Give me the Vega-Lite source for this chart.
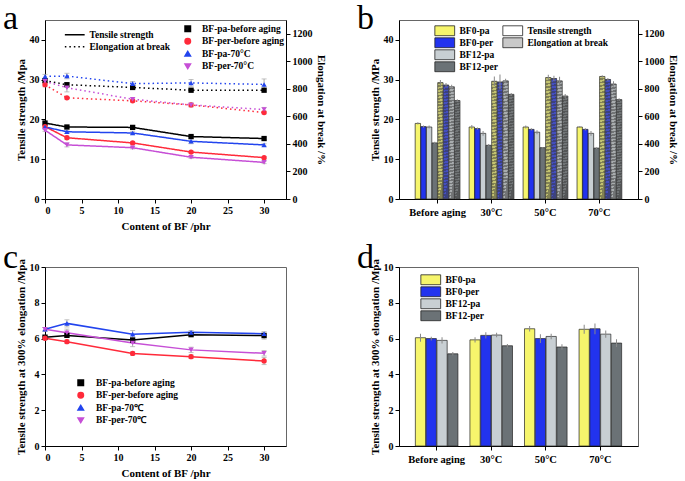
{
"$schema": "https://vega.github.io/schema/vega-lite/v6.json",
"padding": {"left": 2, "top": 1, "right": 0, "bottom": 0},
"columns": 2,
"align": "each",
"spacing": {"column": 29, "row": 8},
"config": {
  "font": "Liberation Serif",
  "view": {"stroke": "#666", "strokeWidth": 1},
  "axis": {"labelFont": "Liberation Serif", "labelFontWeight": "bold", "labelFontSize": 10, "titleFont": "Liberation Serif", "titleFontWeight": "bold", "titleFontSize": 11, "labelColor": "#000", "titleColor": "#000", "domainColor": "#000", "tickColor": "#000", "grid": false, "tickSize": 4, "labelPadding": 2, "titlePadding": 3, "labelOverlap": false},
  "legend": {"labelFont": "Liberation Serif", "labelFontWeight": "bold", "labelFontSize": 9.5, "labelColor": "#000", "rowPadding": 1, "title": null},
  "title": {"font": "Liberation Serif", "fontWeight": "normal", "fontSize": 34, "anchor": "start", "frame": "bounds", "offset": -16, "dx": -12, "color": "#000"}
},
"resolve": {"scale": {"xOffset": "independent", "color": "independent", "shape": "independent", "fill": "independent", "strokeDash": "independent"}, "legend": {"color": "independent", "shape": "independent", "fill": "independent", "strokeDash": "independent"}},
"concat": [
{
  "title": {"text": "a"},
  "width": 241, "height": 179,
  "data": {"values": [
    {"x": 0, "series": "BF-pa-before aging", "prop": "Tensile strength", "v": 19.1, "e": 0.3},
    {"x": 3, "series": "BF-pa-before aging", "prop": "Tensile strength", "v": 18.1, "e": 0.3},
    {"x": 12, "series": "BF-pa-before aging", "prop": "Tensile strength", "v": 18.0, "e": 0.3},
    {"x": 20, "series": "BF-pa-before aging", "prop": "Tensile strength", "v": 15.7, "e": 0.3},
    {"x": 30, "series": "BF-pa-before aging", "prop": "Tensile strength", "v": 15.2, "e": 0.3},
    {"x": 0, "series": "BF-per-before aging", "prop": "Tensile strength", "v": 18.2, "e": 0.3},
    {"x": 3, "series": "BF-per-before aging", "prop": "Tensile strength", "v": 15.4, "e": 0.4},
    {"x": 12, "series": "BF-per-before aging", "prop": "Tensile strength", "v": 14.1, "e": 0.3},
    {"x": 20, "series": "BF-per-before aging", "prop": "Tensile strength", "v": 11.8, "e": 0.3},
    {"x": 30, "series": "BF-per-before aging", "prop": "Tensile strength", "v": 10.4, "e": 0.3},
    {"x": 0, "series": "BF-pa-70°C", "prop": "Tensile strength", "v": 18.1, "e": 0.3},
    {"x": 3, "series": "BF-pa-70°C", "prop": "Tensile strength", "v": 16.9, "e": 0.4},
    {"x": 12, "series": "BF-pa-70°C", "prop": "Tensile strength", "v": 16.6, "e": 0.4},
    {"x": 20, "series": "BF-pa-70°C", "prop": "Tensile strength", "v": 14.5, "e": 0.6},
    {"x": 30, "series": "BF-pa-70°C", "prop": "Tensile strength", "v": 13.6, "e": 0.3},
    {"x": 0, "series": "BF-per-70°C", "prop": "Tensile strength", "v": 17.3, "e": 0.3},
    {"x": 3, "series": "BF-per-70°C", "prop": "Tensile strength", "v": 13.6, "e": 0.5},
    {"x": 12, "series": "BF-per-70°C", "prop": "Tensile strength", "v": 12.9, "e": 0.3},
    {"x": 20, "series": "BF-per-70°C", "prop": "Tensile strength", "v": 10.5, "e": 0.3},
    {"x": 30, "series": "BF-per-70°C", "prop": "Tensile strength", "v": 9.2, "e": 0.3},
    {"x": 0, "series": "BF-pa-before aging", "prop": "Elongation at break", "v": 860, "e": 15},
    {"x": 3, "series": "BF-pa-before aging", "prop": "Elongation at break", "v": 830, "e": 15},
    {"x": 12, "series": "BF-pa-before aging", "prop": "Elongation at break", "v": 810, "e": 10},
    {"x": 20, "series": "BF-pa-before aging", "prop": "Elongation at break", "v": 790, "e": 10},
    {"x": 30, "series": "BF-pa-before aging", "prop": "Elongation at break", "v": 790, "e": 10},
    {"x": 0, "series": "BF-per-before aging", "prop": "Elongation at break", "v": 830, "e": 15},
    {"x": 3, "series": "BF-per-before aging", "prop": "Elongation at break", "v": 735, "e": 10},
    {"x": 12, "series": "BF-per-before aging", "prop": "Elongation at break", "v": 713, "e": 10},
    {"x": 20, "series": "BF-per-before aging", "prop": "Elongation at break", "v": 683, "e": 10},
    {"x": 30, "series": "BF-per-before aging", "prop": "Elongation at break", "v": 628, "e": 10},
    {"x": 0, "series": "BF-pa-70°C", "prop": "Elongation at break", "v": 890, "e": 15},
    {"x": 3, "series": "BF-pa-70°C", "prop": "Elongation at break", "v": 893, "e": 20},
    {"x": 12, "series": "BF-pa-70°C", "prop": "Elongation at break", "v": 838, "e": 15},
    {"x": 20, "series": "BF-pa-70°C", "prop": "Elongation at break", "v": 843, "e": 25},
    {"x": 30, "series": "BF-pa-70°C", "prop": "Elongation at break", "v": 832, "e": 40},
    {"x": 0, "series": "BF-per-70°C", "prop": "Elongation at break", "v": 855, "e": 15},
    {"x": 3, "series": "BF-per-70°C", "prop": "Elongation at break", "v": 808, "e": 30},
    {"x": 12, "series": "BF-per-70°C", "prop": "Elongation at break", "v": 725, "e": 10},
    {"x": 20, "series": "BF-per-70°C", "prop": "Elongation at break", "v": 683, "e": 15},
    {"x": 30, "series": "BF-per-70°C", "prop": "Elongation at break", "v": 650, "e": 15}
  ]},
  "encoding": {
    "x": {"field": "x", "type": "quantitative", "scale": {"domain": [0, 33], "nice": false}, "axis": {"values": [0, 5, 10, 15, 20, 25, 30], "title": "Content of BF /phr", "titlePadding": 5}}
  },
  "layer": [
    {"transform": [{"filter": "datum.prop == 'Tensile strength'"}],
     "encoding": {"y": {"field": "v", "type": "quantitative", "scale": {"domain": [0, 45], "nice": false}, "axis": {"values": [0, 10, 20, 30, 40], "title": "Tensile strength /Mpa"}}},
     "layer": [
       {"mark": {"type": "errorbar", "color": "#aaa", "ticks": true}, "encoding": {"yError": {"field": "e"}}},
       {"mark": {"type": "line", "strokeWidth": 1.5},
        "encoding": {
          "color": {"field": "series", "type": "nominal", "scale": {"domain": ["BF-pa-before aging", "BF-per-before aging", "BF-pa-70°C", "BF-per-70°C"], "range": ["#000000", "#ff2a3a", "#2244ee", "#c64fd6"]}, "legend": {"orient": "none", "legendX": 138, "legendY": 4, "symbolSize": 30, "labelOffset": 9.5, "rowPadding": 0.5}},
          "strokeDash": {"field": "prop", "type": "nominal", "scale": {"domain": ["Tensile strength", "Elongation at break"], "range": [[1, 0], [1.5, 3]]}, "legend": {"orient": "none", "legendX": 25, "legendY": 10, "symbolType": "M-3.3,0H3.3", "symbolSize": 36, "labelOffset": 10, "rowPadding": 1, "symbolStrokeColor": "#000", "symbolStrokeWidth": 1.5}}
        }},
       {"mark": {"type": "point", "filled": true, "size": 28, "opacity": 1},
        "encoding": {
          "color": {"field": "series", "type": "nominal", "legend": {"orient": "none", "legendX": 138, "legendY": 4, "symbolSize": 30, "labelOffset": 9.5, "rowPadding": 0.5}},
          "shape": {"field": "series", "type": "nominal", "scale": {"domain": ["BF-pa-before aging", "BF-per-before aging", "BF-pa-70°C", "BF-per-70°C"], "range": ["square", "circle", "triangle-up", "triangle-down"]}, "legend": {"orient": "none", "legendX": 138, "legendY": 4, "symbolSize": 30, "labelOffset": 9.5, "rowPadding": 0.5}}
        }}
     ]},
    {"transform": [{"filter": "datum.prop == 'Elongation at break'"}],
     "encoding": {"y": {"field": "v", "type": "quantitative", "scale": {"domain": [0, 1300], "nice": false}, "axis": {"orient": "right", "format": "d", "values": [0, 200, 400, 600, 800, 1000, 1200], "title": "Elongation at break /%"}}},
     "layer": [
       {"mark": {"type": "errorbar", "color": "#aaa", "ticks": true}, "encoding": {"yError": {"field": "e"}}},
       {"mark": {"type": "line", "strokeWidth": 1.5},
        "encoding": {
          "color": {"field": "series", "type": "nominal"},
          "strokeDash": {"field": "prop", "type": "nominal"}
        }},
       {"mark": {"type": "point", "filled": true, "size": 28, "opacity": 1},
        "encoding": {
          "color": {"field": "series", "type": "nominal"},
          "shape": {"field": "series", "type": "nominal"}
        }}
     ]}
  ],
  "resolve": {"scale": {"y": "independent"}}
},
{
  "title": {"text": "b"},
  "width": 239, "height": 179,
  "data": {"values": [
    {"cond": "Before aging", "sample": "BF0-pa", "prop": "Tensile strength", "key": "TS BF0-pa", "v": 19.0, "lo": 18.7, "hi": 19.3},
    {"cond": "Before aging", "sample": "BF0-per", "prop": "Tensile strength", "key": "TS BF0-per", "v": 18.2, "lo": 17.9, "hi": 18.5},
    {"cond": "Before aging", "sample": "BF12-pa", "prop": "Tensile strength", "key": "TS BF12-pa", "v": 18.1, "lo": 17.7, "hi": 18.5},
    {"cond": "Before aging", "sample": "BF12-per", "prop": "Tensile strength", "key": "TS BF12-per", "v": 14.1, "lo": 13.8, "hi": 14.4},
    {"cond": "30°C", "sample": "BF0-pa", "prop": "Tensile strength", "key": "TS BF0-pa", "v": 18.1, "lo": 17.6, "hi": 18.6},
    {"cond": "30°C", "sample": "BF0-per", "prop": "Tensile strength", "key": "TS BF0-per", "v": 17.7, "lo": 17.4, "hi": 18.0},
    {"cond": "30°C", "sample": "BF12-pa", "prop": "Tensile strength", "key": "TS BF12-pa", "v": 16.5, "lo": 15.9, "hi": 17.1},
    {"cond": "30°C", "sample": "BF12-per", "prop": "Tensile strength", "key": "TS BF12-per", "v": 13.5, "lo": 13.2, "hi": 13.8},
    {"cond": "50°C", "sample": "BF0-pa", "prop": "Tensile strength", "key": "TS BF0-pa", "v": 18.1, "lo": 17.7, "hi": 18.5},
    {"cond": "50°C", "sample": "BF0-per", "prop": "Tensile strength", "key": "TS BF0-per", "v": 17.5, "lo": 17.2, "hi": 17.8},
    {"cond": "50°C", "sample": "BF12-pa", "prop": "Tensile strength", "key": "TS BF12-pa", "v": 16.8, "lo": 16.3, "hi": 17.3},
    {"cond": "50°C", "sample": "BF12-per", "prop": "Tensile strength", "key": "TS BF12-per", "v": 12.9, "lo": 12.7, "hi": 13.1},
    {"cond": "70°C", "sample": "BF0-pa", "prop": "Tensile strength", "key": "TS BF0-pa", "v": 18.1, "lo": 17.9, "hi": 18.3},
    {"cond": "70°C", "sample": "BF0-per", "prop": "Tensile strength", "key": "TS BF0-per", "v": 17.5, "lo": 17.2, "hi": 17.8},
    {"cond": "70°C", "sample": "BF12-pa", "prop": "Tensile strength", "key": "TS BF12-pa", "v": 16.5, "lo": 15.9, "hi": 17.1},
    {"cond": "70°C", "sample": "BF12-per", "prop": "Tensile strength", "key": "TS BF12-per", "v": 12.8, "lo": 12.6, "hi": 13.0},
    {"cond": "Before aging", "sample": "BF0-pa", "prop": "Elongation at break", "key": "EL BF0-pa", "v": 845, "lo": 825, "hi": 865},
    {"cond": "Before aging", "sample": "BF0-per", "prop": "Elongation at break", "key": "EL BF0-per", "v": 828, "lo": 813, "hi": 843},
    {"cond": "Before aging", "sample": "BF12-pa", "prop": "Elongation at break", "key": "EL BF12-pa", "v": 815, "lo": 800, "hi": 830},
    {"cond": "Before aging", "sample": "BF12-per", "prop": "Elongation at break", "key": "EL BF12-per", "v": 715, "lo": 705, "hi": 725},
    {"cond": "30°C", "sample": "BF0-pa", "prop": "Elongation at break", "key": "EL BF0-pa", "v": 855, "lo": 820, "hi": 890},
    {"cond": "30°C", "sample": "BF0-per", "prop": "Elongation at break", "key": "EL BF0-per", "v": 850, "lo": 795, "hi": 905},
    {"cond": "30°C", "sample": "BF12-pa", "prop": "Elongation at break", "key": "EL BF12-pa", "v": 858, "lo": 843, "hi": 873},
    {"cond": "30°C", "sample": "BF12-per", "prop": "Elongation at break", "key": "EL BF12-per", "v": 760, "lo": 750, "hi": 770},
    {"cond": "50°C", "sample": "BF0-pa", "prop": "Elongation at break", "key": "EL BF0-pa", "v": 882, "lo": 862, "hi": 902},
    {"cond": "50°C", "sample": "BF0-per", "prop": "Elongation at break", "key": "EL BF0-per", "v": 875, "lo": 855, "hi": 895},
    {"cond": "50°C", "sample": "BF12-pa", "prop": "Elongation at break", "key": "EL BF12-pa", "v": 858, "lo": 828, "hi": 888},
    {"cond": "50°C", "sample": "BF12-per", "prop": "Elongation at break", "key": "EL BF12-per", "v": 748, "lo": 733, "hi": 763},
    {"cond": "70°C", "sample": "BF0-pa", "prop": "Elongation at break", "key": "EL BF0-pa", "v": 890, "lo": 882, "hi": 898},
    {"cond": "70°C", "sample": "BF0-per", "prop": "Elongation at break", "key": "EL BF0-per", "v": 868, "lo": 858, "hi": 878},
    {"cond": "70°C", "sample": "BF12-pa", "prop": "Elongation at break", "key": "EL BF12-pa", "v": 835, "lo": 815, "hi": 855},
    {"cond": "70°C", "sample": "BF12-per", "prop": "Elongation at break", "key": "EL BF12-per", "v": 722, "lo": 712, "hi": 732}
  ]},
  "encoding": {
    "x": {"field": "cond", "type": "nominal", "scale": {"type": "band", "domain": ["Before aging", "30°C", "50°C", "70°C"], "paddingInner": 0.17, "paddingOuter": 0.3}, "axis": {"title": null, "labelAngle": 0, "labelFontSize": 10.5, "labelPadding": 4}},
    "xOffset": {"field": "key", "type": "nominal", "scale": {"type": "band", "domain": ["TS BF0-pa", "TS BF0-per", "TS BF12-pa", "TS BF12-per", "EL BF0-pa", "EL BF0-per", "EL BF12-pa", "EL BF12-per"], "paddingInner": 0.05, "paddingOuter": 0}}
  },
  "layer": [
    {"transform": [{"filter": "datum.prop == 'Tensile strength'"}],
     "encoding": {"y": {"field": "v", "type": "quantitative", "scale": {"domain": [0, 45], "nice": false}, "axis": {"values": [0, 10, 20, 30, 40], "title": "Tensile strength /MPa"}}},
     "layer": [
       {"mark": {"type": "bar", "stroke": "#222", "strokeWidth": 0.7},
        "encoding": {"color": {"field": "sample", "type": "nominal", "scale": {"domain": ["BF0-pa", "BF0-per", "BF12-pa", "BF12-per"], "range": ["#f6f56c", "#2233ee", "#c8cfd3", "#6b7276"]}, "legend": {"orient": "none", "legendX": 41, "legendY": 6, "symbolType": "M-3.3,-1.65H3.3V1.65H-3.3Z", "symbolSize": 36, "labelOffset": 10, "rowPadding": -2.5, "symbolStrokeColor": "#222", "symbolStrokeWidth": 0.8, "symbolOpacity": 1}}}},
       {"mark": {"type": "bar", "color": "#888", "width": 1}, "encoding": {"y": {"field": "lo", "type": "quantitative"}, "y2": {"field": "hi"}}}
     ]},
    {"transform": [{"filter": "datum.prop == 'Elongation at break'"}],
     "encoding": {"y": {"field": "v", "type": "quantitative", "scale": {"domain": [0, 1300], "nice": false}, "axis": {"orient": "right", "format": "d", "values": [0, 200, 400, 600, 800, 1000, 1200], "title": "Elongation at break /%"}}},
     "layer": [
       {"mark": {"type": "bar", "stroke": "#222", "strokeWidth": 0.7},
        "encoding": {"color": {"field": "sample", "type": "nominal"}}},
       {"mark": {"type": "bar"},
        "encoding": {"fill": {"field": "prop", "type": "nominal", "scale": {"domain": ["Tensile strength", "Elongation at break"], "range": ["rgba(255,255,255,0)", "rgba(120,120,120,0.4)"]}, "legend": {"orient": "none", "legendX": 109, "legendY": 6, "symbolType": "M-3.3,-1.65H3.3V1.65H-3.3Z", "symbolSize": 36, "labelOffset": 10, "rowPadding": -2.5, "symbolStrokeColor": "#222", "symbolStrokeWidth": 0.8, "symbolOpacity": 1}}}},
       {"mark": {"type": "bar", "fill": {"gradient": "linear", "x1": 0, "y1": 0, "x2": 0.3, "y2": 1, "stops": [
          {"offset": 0.0, "color": "rgba(0,0,0,0)"}, {"offset": 0.0125, "color": "rgba(0,0,0,0)"}, {"offset": 0.0125, "color": "rgba(50,50,50,0.45)"}, {"offset": 0.025, "color": "rgba(50,50,50,0.45)"},
          {"offset": 0.025, "color": "rgba(0,0,0,0)"}, {"offset": 0.0375, "color": "rgba(0,0,0,0)"}, {"offset": 0.0375, "color": "rgba(50,50,50,0.45)"}, {"offset": 0.05, "color": "rgba(50,50,50,0.45)"},
          {"offset": 0.05, "color": "rgba(0,0,0,0)"}, {"offset": 0.0625, "color": "rgba(0,0,0,0)"}, {"offset": 0.0625, "color": "rgba(50,50,50,0.45)"}, {"offset": 0.075, "color": "rgba(50,50,50,0.45)"},
          {"offset": 0.075, "color": "rgba(0,0,0,0)"}, {"offset": 0.0875, "color": "rgba(0,0,0,0)"}, {"offset": 0.0875, "color": "rgba(50,50,50,0.45)"}, {"offset": 0.1, "color": "rgba(50,50,50,0.45)"},
          {"offset": 0.1, "color": "rgba(0,0,0,0)"}, {"offset": 0.1125, "color": "rgba(0,0,0,0)"}, {"offset": 0.1125, "color": "rgba(50,50,50,0.45)"}, {"offset": 0.125, "color": "rgba(50,50,50,0.45)"},
          {"offset": 0.125, "color": "rgba(0,0,0,0)"}, {"offset": 0.1375, "color": "rgba(0,0,0,0)"}, {"offset": 0.1375, "color": "rgba(50,50,50,0.45)"}, {"offset": 0.15, "color": "rgba(50,50,50,0.45)"},
          {"offset": 0.15, "color": "rgba(0,0,0,0)"}, {"offset": 0.1625, "color": "rgba(0,0,0,0)"}, {"offset": 0.1625, "color": "rgba(50,50,50,0.45)"}, {"offset": 0.175, "color": "rgba(50,50,50,0.45)"},
          {"offset": 0.175, "color": "rgba(0,0,0,0)"}, {"offset": 0.1875, "color": "rgba(0,0,0,0)"}, {"offset": 0.1875, "color": "rgba(50,50,50,0.45)"}, {"offset": 0.2, "color": "rgba(50,50,50,0.45)"},
          {"offset": 0.2, "color": "rgba(0,0,0,0)"}, {"offset": 0.2125, "color": "rgba(0,0,0,0)"}, {"offset": 0.2125, "color": "rgba(50,50,50,0.45)"}, {"offset": 0.225, "color": "rgba(50,50,50,0.45)"},
          {"offset": 0.225, "color": "rgba(0,0,0,0)"}, {"offset": 0.2375, "color": "rgba(0,0,0,0)"}, {"offset": 0.2375, "color": "rgba(50,50,50,0.45)"}, {"offset": 0.25, "color": "rgba(50,50,50,0.45)"},
          {"offset": 0.25, "color": "rgba(0,0,0,0)"}, {"offset": 0.2625, "color": "rgba(0,0,0,0)"}, {"offset": 0.2625, "color": "rgba(50,50,50,0.45)"}, {"offset": 0.275, "color": "rgba(50,50,50,0.45)"},
          {"offset": 0.275, "color": "rgba(0,0,0,0)"}, {"offset": 0.2875, "color": "rgba(0,0,0,0)"}, {"offset": 0.2875, "color": "rgba(50,50,50,0.45)"}, {"offset": 0.3, "color": "rgba(50,50,50,0.45)"},
          {"offset": 0.3, "color": "rgba(0,0,0,0)"}, {"offset": 0.3125, "color": "rgba(0,0,0,0)"}, {"offset": 0.3125, "color": "rgba(50,50,50,0.45)"}, {"offset": 0.325, "color": "rgba(50,50,50,0.45)"},
          {"offset": 0.325, "color": "rgba(0,0,0,0)"}, {"offset": 0.3375, "color": "rgba(0,0,0,0)"}, {"offset": 0.3375, "color": "rgba(50,50,50,0.45)"}, {"offset": 0.35, "color": "rgba(50,50,50,0.45)"},
          {"offset": 0.35, "color": "rgba(0,0,0,0)"}, {"offset": 0.3625, "color": "rgba(0,0,0,0)"}, {"offset": 0.3625, "color": "rgba(50,50,50,0.45)"}, {"offset": 0.375, "color": "rgba(50,50,50,0.45)"},
          {"offset": 0.375, "color": "rgba(0,0,0,0)"}, {"offset": 0.3875, "color": "rgba(0,0,0,0)"}, {"offset": 0.3875, "color": "rgba(50,50,50,0.45)"}, {"offset": 0.4, "color": "rgba(50,50,50,0.45)"},
          {"offset": 0.4, "color": "rgba(0,0,0,0)"}, {"offset": 0.4125, "color": "rgba(0,0,0,0)"}, {"offset": 0.4125, "color": "rgba(50,50,50,0.45)"}, {"offset": 0.425, "color": "rgba(50,50,50,0.45)"},
          {"offset": 0.425, "color": "rgba(0,0,0,0)"}, {"offset": 0.4375, "color": "rgba(0,0,0,0)"}, {"offset": 0.4375, "color": "rgba(50,50,50,0.45)"}, {"offset": 0.45, "color": "rgba(50,50,50,0.45)"},
          {"offset": 0.45, "color": "rgba(0,0,0,0)"}, {"offset": 0.4625, "color": "rgba(0,0,0,0)"}, {"offset": 0.4625, "color": "rgba(50,50,50,0.45)"}, {"offset": 0.475, "color": "rgba(50,50,50,0.45)"},
          {"offset": 0.475, "color": "rgba(0,0,0,0)"}, {"offset": 0.4875, "color": "rgba(0,0,0,0)"}, {"offset": 0.4875, "color": "rgba(50,50,50,0.45)"}, {"offset": 0.5, "color": "rgba(50,50,50,0.45)"},
          {"offset": 0.5, "color": "rgba(0,0,0,0)"}, {"offset": 0.5125, "color": "rgba(0,0,0,0)"}, {"offset": 0.5125, "color": "rgba(50,50,50,0.45)"}, {"offset": 0.525, "color": "rgba(50,50,50,0.45)"},
          {"offset": 0.525, "color": "rgba(0,0,0,0)"}, {"offset": 0.5375, "color": "rgba(0,0,0,0)"}, {"offset": 0.5375, "color": "rgba(50,50,50,0.45)"}, {"offset": 0.55, "color": "rgba(50,50,50,0.45)"},
          {"offset": 0.55, "color": "rgba(0,0,0,0)"}, {"offset": 0.5625, "color": "rgba(0,0,0,0)"}, {"offset": 0.5625, "color": "rgba(50,50,50,0.45)"}, {"offset": 0.575, "color": "rgba(50,50,50,0.45)"},
          {"offset": 0.575, "color": "rgba(0,0,0,0)"}, {"offset": 0.5875, "color": "rgba(0,0,0,0)"}, {"offset": 0.5875, "color": "rgba(50,50,50,0.45)"}, {"offset": 0.6, "color": "rgba(50,50,50,0.45)"},
          {"offset": 0.6, "color": "rgba(0,0,0,0)"}, {"offset": 0.6125, "color": "rgba(0,0,0,0)"}, {"offset": 0.6125, "color": "rgba(50,50,50,0.45)"}, {"offset": 0.625, "color": "rgba(50,50,50,0.45)"},
          {"offset": 0.625, "color": "rgba(0,0,0,0)"}, {"offset": 0.6375, "color": "rgba(0,0,0,0)"}, {"offset": 0.6375, "color": "rgba(50,50,50,0.45)"}, {"offset": 0.65, "color": "rgba(50,50,50,0.45)"},
          {"offset": 0.65, "color": "rgba(0,0,0,0)"}, {"offset": 0.6625, "color": "rgba(0,0,0,0)"}, {"offset": 0.6625, "color": "rgba(50,50,50,0.45)"}, {"offset": 0.675, "color": "rgba(50,50,50,0.45)"},
          {"offset": 0.675, "color": "rgba(0,0,0,0)"}, {"offset": 0.6875, "color": "rgba(0,0,0,0)"}, {"offset": 0.6875, "color": "rgba(50,50,50,0.45)"}, {"offset": 0.7, "color": "rgba(50,50,50,0.45)"},
          {"offset": 0.7, "color": "rgba(0,0,0,0)"}, {"offset": 0.7125, "color": "rgba(0,0,0,0)"}, {"offset": 0.7125, "color": "rgba(50,50,50,0.45)"}, {"offset": 0.725, "color": "rgba(50,50,50,0.45)"},
          {"offset": 0.725, "color": "rgba(0,0,0,0)"}, {"offset": 0.7375, "color": "rgba(0,0,0,0)"}, {"offset": 0.7375, "color": "rgba(50,50,50,0.45)"}, {"offset": 0.75, "color": "rgba(50,50,50,0.45)"},
          {"offset": 0.75, "color": "rgba(0,0,0,0)"}, {"offset": 0.7625, "color": "rgba(0,0,0,0)"}, {"offset": 0.7625, "color": "rgba(50,50,50,0.45)"}, {"offset": 0.775, "color": "rgba(50,50,50,0.45)"},
          {"offset": 0.775, "color": "rgba(0,0,0,0)"}, {"offset": 0.7875, "color": "rgba(0,0,0,0)"}, {"offset": 0.7875, "color": "rgba(50,50,50,0.45)"}, {"offset": 0.8, "color": "rgba(50,50,50,0.45)"},
          {"offset": 0.8, "color": "rgba(0,0,0,0)"}, {"offset": 0.8125, "color": "rgba(0,0,0,0)"}, {"offset": 0.8125, "color": "rgba(50,50,50,0.45)"}, {"offset": 0.825, "color": "rgba(50,50,50,0.45)"},
          {"offset": 0.825, "color": "rgba(0,0,0,0)"}, {"offset": 0.8375, "color": "rgba(0,0,0,0)"}, {"offset": 0.8375, "color": "rgba(50,50,50,0.45)"}, {"offset": 0.85, "color": "rgba(50,50,50,0.45)"},
          {"offset": 0.85, "color": "rgba(0,0,0,0)"}, {"offset": 0.8625, "color": "rgba(0,0,0,0)"}, {"offset": 0.8625, "color": "rgba(50,50,50,0.45)"}, {"offset": 0.875, "color": "rgba(50,50,50,0.45)"},
          {"offset": 0.875, "color": "rgba(0,0,0,0)"}, {"offset": 0.8875, "color": "rgba(0,0,0,0)"}, {"offset": 0.8875, "color": "rgba(50,50,50,0.45)"}, {"offset": 0.9, "color": "rgba(50,50,50,0.45)"},
          {"offset": 0.9, "color": "rgba(0,0,0,0)"}, {"offset": 0.9125, "color": "rgba(0,0,0,0)"}, {"offset": 0.9125, "color": "rgba(50,50,50,0.45)"}, {"offset": 0.925, "color": "rgba(50,50,50,0.45)"},
          {"offset": 0.925, "color": "rgba(0,0,0,0)"}, {"offset": 0.9375, "color": "rgba(0,0,0,0)"}, {"offset": 0.9375, "color": "rgba(50,50,50,0.45)"}, {"offset": 0.95, "color": "rgba(50,50,50,0.45)"},
          {"offset": 0.95, "color": "rgba(0,0,0,0)"}, {"offset": 0.9625, "color": "rgba(0,0,0,0)"}, {"offset": 0.9625, "color": "rgba(50,50,50,0.45)"}, {"offset": 0.975, "color": "rgba(50,50,50,0.45)"},
          {"offset": 0.975, "color": "rgba(0,0,0,0)"}, {"offset": 0.9875, "color": "rgba(0,0,0,0)"}, {"offset": 0.9875, "color": "rgba(50,50,50,0.45)"}, {"offset": 1.0, "color": "rgba(50,50,50,0.45)"}
        ]}}, "encoding": {}},
       {"mark": {"type": "bar", "color": "#888", "width": 1}, "encoding": {"y": {"field": "lo", "type": "quantitative"}, "y2": {"field": "hi"}}}
     ]}
  ],
  "resolve": {"scale": {"y": "independent"}}
},
{
  "title": {"text": "c"},
  "width": 241, "height": 179,
  "data": {"values": [
    {"x": 0, "series": "BF-pa-before aging", "v": 6.08, "e": 0.1},
    {"x": 3, "series": "BF-pa-before aging", "v": 6.18, "e": 0.1},
    {"x": 12, "series": "BF-pa-before aging", "v": 5.92, "e": 0.1},
    {"x": 20, "series": "BF-pa-before aging", "v": 6.22, "e": 0.1},
    {"x": 30, "series": "BF-pa-before aging", "v": 6.17, "e": 0.2},
    {"x": 0, "series": "BF-per-before aging", "v": 6.02, "e": 0.1},
    {"x": 3, "series": "BF-per-before aging", "v": 5.83, "e": 0.1},
    {"x": 12, "series": "BF-per-before aging", "v": 5.17, "e": 0.1},
    {"x": 20, "series": "BF-per-before aging", "v": 4.99, "e": 0.1},
    {"x": 30, "series": "BF-per-before aging", "v": 4.75, "e": 0.2},
    {"x": 0, "series": "BF-pa-70℃", "v": 6.52, "e": 0.1},
    {"x": 3, "series": "BF-pa-70℃", "v": 6.85, "e": 0.2},
    {"x": 12, "series": "BF-pa-70℃", "v": 6.25, "e": 0.2},
    {"x": 20, "series": "BF-pa-70℃", "v": 6.35, "e": 0.1},
    {"x": 30, "series": "BF-pa-70℃", "v": 6.27, "e": 0.1},
    {"x": 0, "series": "BF-per-70℃", "v": 6.52, "e": 0.1},
    {"x": 3, "series": "BF-per-70℃", "v": 6.33, "e": 0.2},
    {"x": 12, "series": "BF-per-70℃", "v": 5.75, "e": 0.2},
    {"x": 20, "series": "BF-per-70℃", "v": 5.37, "e": 0.15},
    {"x": 30, "series": "BF-per-70℃", "v": 5.18, "e": 0.15}
  ]},
  "encoding": {
    "x": {"field": "x", "type": "quantitative", "scale": {"domain": [0, 33], "nice": false}, "axis": {"values": [0, 5, 10, 15, 20, 25, 30], "title": "Content of BF /phr", "titlePadding": 5}},
    "y": {"field": "v", "type": "quantitative", "scale": {"domain": [0, 10], "nice": false}, "axis": {"values": [0, 2, 4, 6, 8, 10], "title": "Tensile strength at 300% elongation /Mpa"}}
  },
  "layer": [
    {"mark": {"type": "errorbar", "color": "#aaa", "ticks": true}, "encoding": {"yError": {"field": "e"}}},
    {"mark": {"type": "line", "strokeWidth": 1.5},
     "encoding": {"color": {"field": "series", "type": "nominal", "scale": {"domain": ["BF-pa-before aging", "BF-per-before aging", "BF-pa-70℃", "BF-per-70℃"], "range": ["#000000", "#ff2a3a", "#2244ee", "#c64fd6"]}, "legend": {"orient": "none", "legendX": 31, "legendY": 111, "symbolSize": 30, "labelOffset": 10.5, "rowPadding": 0.5}}}},
    {"mark": {"type": "point", "filled": true, "size": 28, "opacity": 1},
     "encoding": {
       "color": {"field": "series", "type": "nominal", "legend": {"orient": "none", "legendX": 31, "legendY": 111, "symbolSize": 30, "labelOffset": 10.5, "rowPadding": 0.5}},
       "shape": {"field": "series", "type": "nominal", "scale": {"domain": ["BF-pa-before aging", "BF-per-before aging", "BF-pa-70℃", "BF-per-70℃"], "range": ["square", "circle", "triangle-up", "triangle-down"]}, "legend": {"orient": "none", "legendX": 31, "legendY": 111, "symbolSize": 30, "labelOffset": 10.5, "rowPadding": 0.5}}
     }}
  ]
},
{
  "title": {"text": "d"},
  "width": 239, "height": 179,
  "data": {"values": [
    {"cond": "Before aging", "sample": "BF0-pa", "v": 6.05, "lo": 5.83, "hi": 6.27},
    {"cond": "Before aging", "sample": "BF0-per", "v": 6.0, "lo": 5.9, "hi": 6.1},
    {"cond": "Before aging", "sample": "BF12-pa", "v": 5.9, "lo": 5.72, "hi": 6.08},
    {"cond": "Before aging", "sample": "BF12-per", "v": 5.15, "lo": 5.05, "hi": 5.25},
    {"cond": "30°C", "sample": "BF0-pa", "v": 5.93, "lo": 5.78, "hi": 6.08},
    {"cond": "30°C", "sample": "BF0-per", "v": 6.18, "lo": 6.0, "hi": 6.36},
    {"cond": "30°C", "sample": "BF12-pa", "v": 6.2, "lo": 6.08, "hi": 6.32},
    {"cond": "30°C", "sample": "BF12-per", "v": 5.6, "lo": 5.5, "hi": 5.7},
    {"cond": "50°C", "sample": "BF0-pa", "v": 6.55, "lo": 6.4, "hi": 6.7},
    {"cond": "50°C", "sample": "BF0-per", "v": 6.0, "lo": 5.75, "hi": 6.25},
    {"cond": "50°C", "sample": "BF12-pa", "v": 6.12, "lo": 5.97, "hi": 6.27},
    {"cond": "50°C", "sample": "BF12-per", "v": 5.53, "lo": 5.38, "hi": 5.68},
    {"cond": "70°C", "sample": "BF0-pa", "v": 6.52, "lo": 6.27, "hi": 6.77},
    {"cond": "70°C", "sample": "BF0-per", "v": 6.55, "lo": 6.25, "hi": 6.85},
    {"cond": "70°C", "sample": "BF12-pa", "v": 6.25, "lo": 6.05, "hi": 6.45},
    {"cond": "70°C", "sample": "BF12-per", "v": 5.75, "lo": 5.53, "hi": 5.97}
  ]},
  "encoding": {
    "x": {"field": "cond", "type": "nominal", "scale": {"type": "band", "domain": ["Before aging", "30°C", "50°C", "70°C"], "paddingInner": 0.22, "paddingOuter": 0.3}, "axis": {"title": null, "labelAngle": 0, "labelFontSize": 10.5, "labelPadding": 4}},
    "xOffset": {"field": "sample", "type": "nominal", "scale": {"type": "band", "domain": ["BF0-pa", "BF0-per", "BF12-pa", "BF12-per"], "paddingInner": 0.05, "paddingOuter": 0}},
    "y": {"field": "v", "type": "quantitative", "scale": {"domain": [0, 10], "nice": false}, "axis": {"values": [0, 2, 4, 6, 8, 10], "title": "Tensile strength at 300% elongation /Mpa"}}
  },
  "layer": [
    {"mark": {"type": "bar", "stroke": "#222", "strokeWidth": 0.7},
     "encoding": {
       "color": {"field": "sample", "type": "nominal", "scale": {"domain": ["BF0-pa", "BF0-per", "BF12-pa", "BF12-per"], "range": ["#f6f56c", "#2233ee", "#c8cfd3", "#6b7276"]}, "legend": {"orient": "none", "legendX": 27, "legendY": 8, "symbolType": "M-3.3,-1.65H3.3V1.65H-3.3Z", "symbolSize": 36, "labelOffset": 10, "rowPadding": -2.5, "symbolStrokeColor": "#222", "symbolStrokeWidth": 0.8, "symbolOpacity": 1}}}},
    {"mark": {"type": "bar", "color": "#888", "width": 1}, "encoding": {"y": {"field": "lo", "type": "quantitative"}, "y2": {"field": "hi"}}}
  ]
}
]
}
